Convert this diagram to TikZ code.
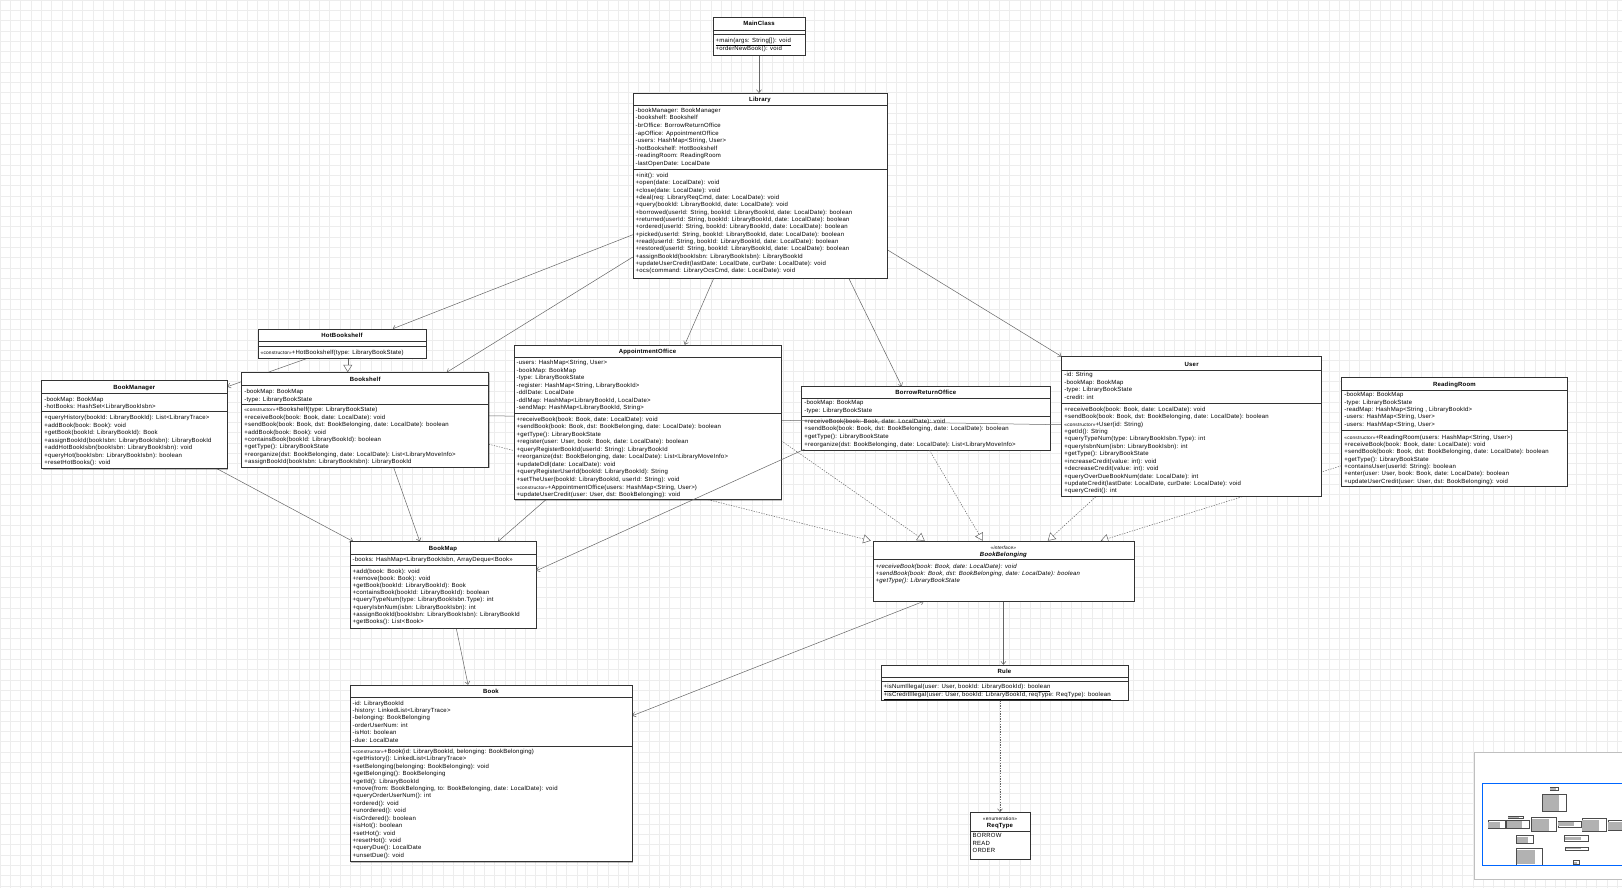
\documentclass[tikz,border=0pt]{standalone}
\usepackage{fontspec}
\setmainfont{Liberation Sans}[LetterSpace=3.5]
\usetikzlibrary{arrows.meta,calc,fit,shadows}
\pgfdeclarelayer{grid}\pgfdeclarelayer{lowbox}\pgfdeclarelayer{lowline}\pgfdeclarelayer{fg}
\pgfsetlayers{grid,lowbox,lowline,main,fg}
\newcommand\stereo[1]{{\fontsize{4.8}{5}\selectfont «#1»}}
\tikzset{
 gridl/.style={draw=black!7, line width=0.4pt},
 ubox/.style={draw=black!80, fill=white, line width=0.5pt, inner sep=0pt,
   drop shadow={shadow xshift=0.9pt, shadow yshift=-0.9pt, fill=black, opacity=0.25}},
 usep/.style={draw=black!80, line width=0.45pt},
 utitle/.style={font=\fontsize{6}{7}\selectfont\bfseries, inner sep=0pt, anchor=base},
 utext/.style={font=\fontsize{6}{#1}\selectfont, align=left, inner sep=0pt, anchor=north west},
 utext/.default=7.45,
 conn/.style={draw=black!60, line width=0.5pt},
 assoc/.style={conn, -{Straight Barb[length=3pt,width=5pt]}},
 inherit/.style={conn, -{Triangle[open,length=7.5pt,width=9pt,fill=white]}},
 realize/.style={inherit, dash pattern=on 1.3pt off 1.3pt},
 depend/.style={assoc, dash pattern=on 1.3pt off 1.3pt},
}
\begin{document}
\begin{tikzpicture}[x=1pt,y=-1pt]
\useasboundingbox (0,0) rectangle (1622,888);
\begin{pgfonlayer}{grid}
\fill[white] (0,0) rectangle (1622,888);
\foreach \i in {0,...,157} {\draw[gridl] (\i*10.3,0) -- (\i*10.3,888);}
\foreach \j in {0,...,86} {\draw[gridl] (0,\j*10.3) -- (1622,\j*10.3);}
\end{pgfonlayer}

% ---------- MainClass
\node[ubox, fit={(713,17)(805,55)}] (main) {};
\draw[usep] (713,30) -- (805,30);
\draw[usep] (713,34) -- (805,34);
\node[utitle] (main-t) at (759,25.5) {MainClass};
\node[utext] (main-m) at (715.5,37.8) {\underline{+main(args: String[]): void}\\+orderNewBook(): void};

% ---------- Library
\node[ubox, fit={(633,93.3)(887,278)}] (lib) {};
\draw[usep] (633,105) -- (887,105);
\draw[usep] (633,169.3) -- (887,169.3);
\node[utitle] (lib-t) at (760,101.3) {Library};
\node[utext=7.6] (lib-a) at (635.5,107.8) {-bookManager: BookManager\\-bookshelf: Bookshelf\\-brOffice: BorrowReturnOffice\\-apOffice: AppointmentOffice\\-users: HashMap<String, User>\\-hotBookshelf: HotBookshelf\\-readingRoom: ReadingRoom\\-lastOpenDate: LocalDate};
\node[utext=7.35] (lib-m) at (635.5,172.8) {+init(): void\\+open(date: LocalDate): void\\+close(date: LocalDate): void\\+deal(req: LibraryReqCmd, date: LocalDate): void\\+query(bookId: LibraryBookId, date: LocalDate): void\\+borrowed(userId: String, bookId: LibraryBookId, date: LocalDate): boolean\\+returned(userId: String, bookId: LibraryBookId, date: LocalDate): boolean\\+ordered(userId: String, bookId: LibraryBookId, date: LocalDate): boolean\\+picked(userId: String, bookId: LibraryBookId, date: LocalDate): boolean\\+read(userId: String, bookId: LibraryBookId, date: LocalDate): boolean\\+restored(userId: String, bookId: LibraryBookId, date: LocalDate): boolean\\+assignBookId(bookIsbn: LibraryBookIsbn): LibraryBookId\\+updateUserCredit(lastDate: LocalDate, curDate: LocalDate): void\\+ocs(command: LibraryOcsCmd, date: LocalDate): void};

% ---------- HotBookshelf
\node[ubox, fit={(258,329)(426,358.3)}] (hot) {};
\draw[usep] (258,341.7) -- (426,341.7);
\draw[usep] (258,346.5) -- (426,346.5);
\node[utitle] (hot-t) at (342,337.3) {HotBookshelf};
\node[utext] (hot-m) at (260.5,350.1) {\stereo{constructor}+HotBookshelf(type: LibraryBookState)};

% ---------- BookManager
\node[ubox, fit={(41.7,380.7)(227,468.6)}] (bm) {};
\draw[usep] (41.7,393.3) -- (227,393.3);
\draw[usep] (41.7,411.7) -- (227,411.7);
\node[utitle] (bm-t) at (134.3,389.3) {BookManager};
\node[utext=7.6] (bm-a) at (44.2,396.8) {-bookMap: BookMap\\-hotBooks: HashSet<LibraryBookIsbn>};
\node[utext=7.55] (bm-m) at (44.2,415.1) {+queryHistory(bookId: LibraryBookId): List<LibraryTrace>\\+addBook(book: Book): void\\+getBook(bookId: LibraryBookId): Book\\+assignBookId(bookIsbn: LibraryBookIsbn): LibraryBookId\\+addHotBookIsbn(bookIsbn: LibraryBookIsbn): void\\+queryHot(bookIsbn: LibraryBookIsbn): boolean\\+resetHotBooks(): void};

% ---------- Bookshelf
\node[ubox, fit={(241.7,372.5)(488.6,467.5)}] (shelf) {};
\draw[usep] (241.7,385.5) -- (488.6,385.5);
\draw[usep] (241.7,404.3) -- (488.6,404.3);
\node[utitle] (shelf-t) at (365.2,381.5) {Bookshelf};
\node[utext=7.8] (shelf-a) at (244.2,388.8) {-bookMap: BookMap\\-type: LibraryBookState};
\node[utext=7.45] (shelf-m) at (244.2,407.1) {\stereo{constructor}+Bookshelf(type: LibraryBookState)\\+receiveBook(book: Book, date: LocalDate): void\\+sendBook(book: Book, dst: BookBelonging, date: LocalDate): boolean\\+addBook(book: Book): void\\+containsBook(bookId: LibraryBookId): boolean\\+getType(): LibraryBookState\\+reorganize(dst: BookBelonging, date: LocalDate): List<LibraryMoveInfo>\\+assignBookId(bookIsbn: LibraryBookIsbn): LibraryBookId};

% ---------- AppointmentOffice
\node[ubox, fit={(514,345)(781,499.6)}] (ao) {};
\draw[usep] (514,357.3) -- (781,357.3);
\draw[usep] (514,413.3) -- (781,413.3);
\node[utitle] (ao-t) at (647.5,353.7) {AppointmentOffice};
\node[utext=7.5] (ao-a) at (516.5,360.1) {-users: HashMap<String, User>\\-bookMap: BookMap\\-type: LibraryBookState\\-register: HashMap<String, LibraryBookId>\\-ddlDate: LocalDate\\-ddlMap: HashMap<LibraryBookId, LocalDate>\\-sendMap: HashMap<LibraryBookId, String>};
\node[utext=7.52] (ao-m) at (516.5,416.8) {+receiveBook(book: Book, date: LocalDate): void\\+sendBook(book: Book, dst: BookBelonging, date: LocalDate): boolean\\+getType(): LibraryBookState\\+register(user: User, book: Book, date: LocalDate): boolean\\+queryRegisterBookId(userId: String): LibraryBookId\\+reorganize(dst: BookBelonging, date: LocalDate): List<LibraryMoveInfo>\\+updateDdl(date: LocalDate): void\\+queryRegisterUserId(bookId: LibraryBookId): String\\+setTheUser(bookId: LibraryBookId, userId: String): void\\\stereo{constructor}+AppointmentOffice(users: HashMap<String, User>)\\+updateUserCredit(user: User, dst: BookBelonging): void};

% ---------- BorrowReturnOffice (lower layer)
\begin{pgfonlayer}{lowbox}
\node[ubox, fit={(801.7,386.7)(1050,450)}] (bro) {};
\draw[usep] (801.7,398.3) -- (1050,398.3);
\draw[usep] (801.7,416) -- (1050,416);
\node[utitle] (bro-t) at (925.8,394.3) {BorrowReturnOffice};
\node[utext=7.6] (bro-a) at (804.2,400.3) {-bookMap: BookMap\\-type: LibraryBookState};
\node[utext=7.6] (bro-m) at (804.2,418.8) {+receiveBook(book: Book, date: LocalDate): void\\+sendBook(book: Book, dst: BookBelonging, date: LocalDate): boolean\\+getType(): LibraryBookState\\+reorganize(dst: BookBelonging, date: LocalDate): List<LibraryMoveInfo>};
\end{pgfonlayer}

% ---------- User
\node[ubox, fit={(1061.7,356.7)(1321.5,496.5)}] (user) {};
\draw[usep] (1061.7,370) -- (1321.5,370);
\draw[usep] (1061.7,403.3) -- (1321.5,403.3);
\node[utitle] (user-t) at (1191.6,366) {User};
\node[utext=7.67] (user-a) at (1064.2,372.1) {-id: String\\-bookMap: BookMap\\-type: LibraryBookState\\-credit: int};
\node[utext=7.41] (user-m) at (1064.2,406.8) {+receiveBook(book: Book, date: LocalDate): void\\+sendBook(book: Book, dst: BookBelonging, date: LocalDate): boolean\\\stereo{constructor}+User(id: String)\\+getId(): String\\+queryTypeNum(type: LibraryBookIsbn.Type): int\\+queryIsbnNum(isbn: LibraryBookIsbn): int\\+getType(): LibraryBookState\\+increaseCredit(value: int): void\\+decreaseCredit(value: int): void\\+queryOverDueBookNum(date: LocalDate): int\\+updateCredit(lastDate: LocalDate, curDate: LocalDate): void\\+queryCredit(): int};

% ---------- ReadingRoom
\node[ubox, fit={(1341.7,377.3)(1567,486)}] (rr) {};
\draw[usep] (1341.7,390) -- (1567,390);
\draw[usep] (1341.7,430) -- (1567,430);
\node[utitle] (rr-t) at (1454.4,386) {ReadingRoom};
\node[utext=7.42] (rr-a) at (1344.2,392.1) {-bookMap: BookMap\\-type: LibraryBookState\\-readMap: HashMap<String , LibraryBookId>\\-users: HashMap<String, User>\\-users: HashMap<String, User>};
\node[utext=7.33] (rr-m) at (1344.2,434.5) {\stereo{constructor}+ReadingRoom(users: HashMap<String, User>)\\+receiveBook(book: Book, date: LocalDate): void\\+sendBook(book: Book, dst: BookBelonging, date: LocalDate): boolean\\+getType(): LibraryBookState\\+containsUser(userId: String): boolean\\+enter(user: User, book: Book, date: LocalDate): boolean\\+updateUserCredit(user: User, dst: BookBelonging): void};

% ---------- BookMap
\node[ubox, fit={(350,541.7)(536,628)}] (bmap) {};
\draw[usep] (350,554) -- (536,554);
\draw[usep] (350,565) -- (536,565);
\node[utitle] (bmap-t) at (443,550.3) {BookMap};
\node[utext] (bmap-a) at (352.5,557.1) {-books: HashMap<LibraryBookIsbn, ArrayDeque<Book>>};
\node[utext=7.2] (bmap-m) at (352.5,568.5) {+add(book: Book): void\\+remove(book: Book): void\\+getBook(bookId: LibraryBookId): Book\\+containsBook(bookId: LibraryBookId): boolean\\+queryTypeNum(type: LibraryBookIsbn.Type): int\\+queryIsbnNum(isbn: LibraryBookIsbn): int\\+assignBookId(bookIsbn: LibraryBookIsbn): LibraryBookId\\+getBooks(): List<Book>};

% ---------- BookBelonging
\node[ubox, fit={(873,541)(1133.8,601)}] (bb) {};
\draw[usep] (873,559.3) -- (1133.8,559.3);
\node[inner sep=0pt, anchor=base, font=\itshape] (bb-s) at (1003.4,549) {\stereo{interface}};
\node[utitle, font=\fontsize{6}{7}\selectfont\bfseries\itshape] (bb-t) at (1003.4,556) {BookBelonging};
\node[utext=7.2, font=\fontsize{6}{7.2}\selectfont\itshape] (bb-m) at (875.5,563.5) {+receiveBook(book: Book, date: LocalDate): void\\+sendBook(book: Book, dst: BookBelonging, date: LocalDate): boolean\\+getType(): LibraryBookState};

% ---------- Rule
\node[ubox, fit={(881,665)(1128,700)}] (rule) {};
\draw[usep] (881,677) -- (1128,677);
\draw[usep] (881,681) -- (1128,681);
\node[utitle] (rule-t) at (1004.5,673) {Rule};
\node[utext=7.5] (rule-m) at (883.5,683.8) {\underline{+isNumIllegal(user: User, bookId: LibraryBookId): boolean}\\\underline{+isCreditIllegal(user: User, bookId: LibraryBookId, reqType: ReqType): boolean}};

% ---------- Book
\node[ubox, fit={(350,685)(632,861.7)}] (book) {};
\draw[usep] (350,697.3) -- (632,697.3);
\draw[usep] (350,746) -- (632,746);
\node[utitle] (book-t) at (491,693.7) {Book};
\node[utext=7.46] (book-a) at (352.5,700.5) {-id: LibraryBookId\\-history: LinkedList<LibraryTrace>\\-belonging: BookBelonging\\-orderUserNum: int\\-isHot: boolean\\-due: LocalDate};
\node[utext=7.43] (book-m) at (352.5,748.8) {\stereo{constructor}+Book(id: LibraryBookId, belonging: BookBelonging)\\+getHistory(): LinkedList<LibraryTrace>\\+setBelonging(belonging: BookBelonging): void\\+getBelonging(): BookBelonging\\+getId(): LibraryBookId\\+move(from: BookBelonging, to: BookBelonging, date: LocalDate): void\\+queryOrderUserNum(): int\\+ordered(): void\\+unordered(): void\\+isOrdered(): boolean\\+isHot(): boolean\\+setHot(): void\\+resetHot(): void\\+queryDue(): LocalDate\\+unsetDue(): void};

% ---------- ReqType
\node[ubox, fit={(970,812.3)(1030,859)}] (rt) {};
\draw[usep] (970,831) -- (1030,831);
\node[inner sep=0pt, anchor=base] (rt-s) at (1000,820.8) {\stereo{enumeration}};
\node[utitle] (rt-t) at (1000,827.7) {ReqType};
\node[utext=7.3] (rt-v) at (972.5,833.6) {BORROW\\READ\\ORDER};

% ---------- connectors (under boxes)
\begin{pgfonlayer}{lowline}
\draw[conn] ($(shelf.north east)+(0,43.5)$) -- ($(user.north west)+(0,68.3)$);
\draw[assoc] (main.south) -- (main.south |- lib.north);
\draw[assoc] ($(lib.north west)+(0,141.7)$) -- ($(hot.north west)+(135,0)$);
\draw[assoc] ($(lib.north west)+(0,164)$) -- ($(shelf.north west)+(205.3,0)$);
\draw[assoc] ($(lib.south west)+(81,0)$) -- ($(ao.north west)+(171,0)$);
\draw[assoc] ($(lib.south west)+(216,0)$) -- ($(bro.north west)+(100.3,0)$);
\draw[assoc] ($(lib.north east)+(0,156.7)$) -- (user.north west);
\draw[inherit] ($(hot.south west)+(90,0)$) -- ($(shelf.north west)+(106.3,0)$);
\draw[assoc] ($(hot.south west)+(49,0)$) -- ($(bm.north east)+(0,6.3)$);
\draw[assoc] ($(bm.south east)+(-10,0)$) -- ($(bmap.north west)+(3.3,0)$);
\draw[assoc] ($(shelf.south west)+(152.3,0)$) -- ($(bmap.north west)+(70,0)$);
\draw[assoc] ($(ao.south west)+(32,0)$) -- ($(bmap.north west)+(148.3,0)$);
\draw[assoc] ($(bmap.south west)+(106.5,0)$) -- ($(book.north west)+(118.3,0)$);
\draw[conn, {Straight Barb[length=3pt,width=5pt]}-{Straight Barb[length=3pt,width=5pt]}] ($(book.north east)+(0,31)$) -- ($(bb.south west)+(51,0)$);
\draw[assoc] (bb.south) -- (bb.south |- rule.north);
\draw[depend] (rt.north |- rule.south) -- (rt.north);
\draw[realize] ($(shelf.north east)+(0,72)$) -- ($(bb.north west)+(-2,0)$);
\draw[realize] ($(ao.north east)+(0,96)$) -- ($(bb.north west)+(52,0)$);
\draw[realize] ($(bro.south west)+(128,0)$) -- ($(bb.north west)+(110,0)$);
\draw[realize] ($(user.south west)+(34.3,0)$) -- ($(bb.north west)+(175,0)$);
\draw[realize] ($(rr.north west)+(0,88.7)$) -- ($(bb.north west)+(228,0)$);
\end{pgfonlayer}

% ---------- connector over boxes, minimap
\begin{pgfonlayer}{fg}
\draw[assoc] ($(bro.south west)+(3,-1)$) -- ($(bmap.north east)+(0,29.3)$);
\node[fill=white, draw=black!25, inner sep=0pt, fit={(1474,752)(1622,879)},
  drop shadow={shadow xshift=1.2pt, shadow yshift=-1.2pt, fill=black, opacity=0.2}] (mini) {};
\begin{scope}
\clip (1474,752) rectangle (1622,879);
\begin{scope}[shift={(1484.2,785.4)}, scale=0.092]
\foreach \a/\b/\c/\d in {713/17/805/55, 633/93.3/887/278, 258/329/426/358.3, 41.7/380.7/227/468.6, 241.7/372.5/488.6/467.5, 514/345/781/499.6, 801.7/386.7/1050/450, 1061.7/356.7/1321.5/496.5, 1341.7/377.3/1567/486, 350/541.7/536/628, 873/541/1133.8/601, 881/665/1128/700, 350/685/632/861.7, 970/812.3/1030/859}
 {\draw[line width=0.15pt, draw=black!70, fill=white] (\a,\b) rectangle (\c,\d);
  \fill[black!30] (\a+4,\b+16) rectangle (\a+0.7*\c-0.7*\a,\d-4);}
\end{scope}
\end{scope}
\draw[draw=blue!60!cyan, line width=0.8pt] (1482,783) rectangle (1622,865);
\end{pgfonlayer}
\end{tikzpicture}
\end{document}
